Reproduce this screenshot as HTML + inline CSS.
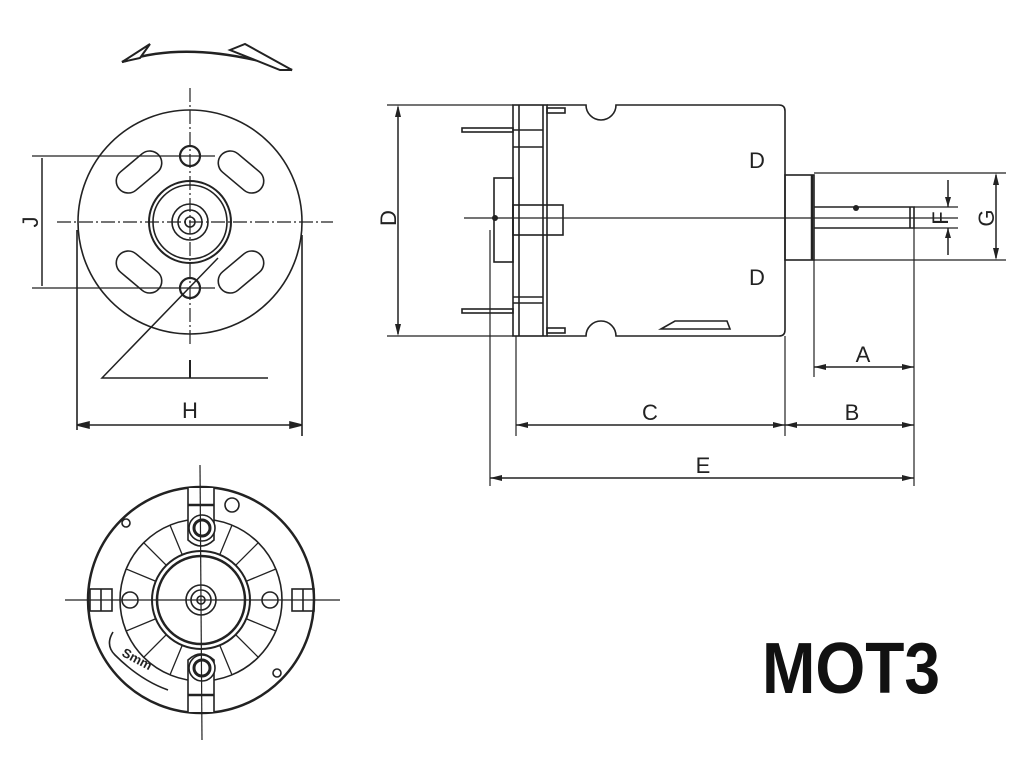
<!DOCTYPE html>
<html><head><meta charset="utf-8"><style>html,body{margin:0;padding:0;background:#fff}svg{display:block}</style></head>
<body>
<svg width="1024" height="768" viewBox="0 0 1024 768" xmlns="http://www.w3.org/2000/svg" font-family="Liberation Sans, sans-serif">
<rect width="1024" height="768" fill="#fff"/>
<g stroke="#222" stroke-width="1.6" fill="none">
<!-- rotation arrow -->
<path d="M122,62 Q190,38 292,70" stroke-width="2.5"/>
<path d="M122,62 L150,44 L140,58 Z" fill="#fff" stroke-width="2"/>
<path d="M230,50 L245,44 L292,70 L280,70 Z" fill="#fff" stroke-width="2"/>
<!-- front view -->
<circle cx="190" cy="222" r="112"/>
<line x1="190" y1="88" x2="190" y2="345" stroke-dasharray="14,3,2,3" stroke-width="1.2"/>
<line x1="57" y1="222" x2="333" y2="222" stroke-dasharray="14,3,2,3" stroke-width="1.2"/>
<circle cx="190" cy="156" r="10" stroke-width="2.2"/>
<circle cx="190" cy="288" r="10" stroke-width="2.2"/>
<rect x="-26" y="-12" width="52" height="24" rx="12" transform="translate(139,172) rotate(-40)"/>
<rect x="-26" y="-12" width="52" height="24" rx="12" transform="translate(241,172) rotate(40)"/>
<rect x="-26" y="-12" width="52" height="24" rx="12" transform="translate(139,272) rotate(40)"/>
<rect x="-26" y="-12" width="52" height="24" rx="12" transform="translate(241,272) rotate(-40)"/>
<circle cx="190" cy="222" r="41" stroke-width="2"/>
<circle cx="190" cy="222" r="37"/>
<circle cx="190" cy="222" r="18"/>
<circle cx="190" cy="222" r="12"/>
<circle cx="190" cy="222" r="5"/>
<!-- J -->
<line x1="32" y1="156" x2="215" y2="156" stroke-width="1.2"/>
<line x1="32" y1="288" x2="215" y2="288" stroke-width="1.2"/>
<line x1="42" y1="158" x2="42" y2="286" stroke-width="1.5"/>
<!-- I leader -->
<polyline points="218,258 102,378 268,378" stroke-width="1.5"/>
<line x1="190" y1="360" x2="190" y2="378" stroke-width="2"/>
<!-- H -->
<line x1="77" y1="230" x2="77" y2="430"/>
<line x1="302" y1="235" x2="302" y2="436"/>
<line x1="77" y1="425" x2="302" y2="425" stroke-width="1.5"/>
<path d="M77,425 l12,-3 v6 Z M302,425 l-12,-3 v6 Z" fill="#222"/>
</g>
<g fill="#222" font-size="22">
<text x="190" y="418" text-anchor="middle">H</text>
<text x="190" y="376" text-anchor="middle" font-size="20">I</text>
<text transform="translate(38,222) rotate(-90)" text-anchor="middle">J</text>
</g>
<!-- bottom view -->
<g stroke="#222" stroke-width="1.6" fill="none">
<circle cx="201" cy="600" r="113" stroke-width="2.5"/>
<circle cx="201" cy="600" r="81"/>
<circle cx="201" cy="600" r="49" stroke-width="2"/>
<circle cx="201" cy="600" r="44" stroke-width="2.5"/>
<circle cx="201" cy="600" r="15"/>
<circle cx="201" cy="600" r="10"/>
<circle cx="201" cy="600" r="4"/>
<g stroke-width="1.3">
<line x1="201" y1="551" x2="201" y2="519" transform="rotate(22.5 201 600)"/>
<line x1="201" y1="551" x2="201" y2="519" transform="rotate(45 201 600)"/>
<line x1="201" y1="551" x2="201" y2="519" transform="rotate(67.5 201 600)"/>
<line x1="201" y1="551" x2="201" y2="519" transform="rotate(112.5 201 600)"/>
<line x1="201" y1="551" x2="201" y2="519" transform="rotate(135 201 600)"/>
<line x1="201" y1="551" x2="201" y2="519" transform="rotate(157.5 201 600)"/>
<line x1="201" y1="551" x2="201" y2="519" transform="rotate(202.5 201 600)"/>
<line x1="201" y1="551" x2="201" y2="519" transform="rotate(225 201 600)"/>
<line x1="201" y1="551" x2="201" y2="519" transform="rotate(247.5 201 600)"/>
<line x1="201" y1="551" x2="201" y2="519" transform="rotate(292.5 201 600)"/>
<line x1="201" y1="551" x2="201" y2="519" transform="rotate(315 201 600)"/>
<line x1="201" y1="551" x2="201" y2="519" transform="rotate(337.5 201 600)"/>
</g>
<path d="M188,488 V540 Q201,552 214,540 V488" fill="#fff"/>
<line x1="188" y1="505" x2="214" y2="505" stroke-width="2.5"/>
<circle cx="202" cy="528" r="13" fill="#fff"/>
<circle cx="202" cy="528" r="8" stroke-width="3"/>
<path d="M188,712 V660 Q201,648 214,660 V712" fill="#fff"/>
<line x1="188" y1="695" x2="214" y2="695" stroke-width="2.5"/>
<circle cx="202" cy="668" r="13" fill="#fff"/>
<circle cx="202" cy="668" r="8" stroke-width="3"/>
<rect x="90" y="589" width="22" height="22"/>
<line x1="101" y1="589" x2="101" y2="611"/>
<rect x="292" y="589" width="22" height="22"/>
<line x1="303" y1="589" x2="303" y2="611"/>
<circle cx="232" cy="505" r="7"/>
<circle cx="130" cy="600" r="8"/>
<circle cx="270" cy="600" r="8"/>
<circle cx="126" cy="523" r="4"/>
<circle cx="277" cy="673" r="4"/>
<path d="M113,632 Q105,645 115,655 Q140,680 168,690"/>
<line x1="200" y1="465" x2="202" y2="740" stroke-width="1.2"/>
<line x1="65" y1="600" x2="340" y2="600" stroke-width="1.2"/>
</g>
<text transform="translate(135,663) rotate(28)" font-size="13" font-weight="bold" fill="#222" text-anchor="middle">Smm</text>
<!-- side view -->
<g stroke="#222" stroke-width="1.6" fill="none">
<line x1="387" y1="105" x2="513" y2="105" stroke-width="1.2"/>
<line x1="387" y1="336" x2="513" y2="336" stroke-width="1.2"/>
<line x1="398" y1="107" x2="398" y2="334" stroke-width="1.5"/>
<rect x="513" y="105" width="34" height="231"/>
<line x1="519" y1="105" x2="519" y2="336"/>
<line x1="543" y1="105" x2="543" y2="336"/>
<line x1="513" y1="130" x2="543" y2="130"/>
<line x1="513" y1="147" x2="543" y2="147"/>
<line x1="513" y1="297" x2="543" y2="297"/>
<line x1="513" y1="303" x2="543" y2="303"/>
<path d="M547,105 H586 A15,15 0 0 0 616,105 H779 Q785,105 785,111 V330 Q785,336 779,336 H616 A15,15 0 0 0 586,336 H547"/>
<rect x="547" y="108" width="18" height="5"/>
<rect x="547" y="328" width="18" height="5"/>
<path d="M661,329 L675,321 H727 L730,329 Z"/>
<rect x="462" y="128" width="51" height="4"/>
<rect x="462" y="309" width="51" height="4"/>
<rect x="494" y="178" width="19" height="84"/>
<rect x="513" y="205" width="50" height="30"/>
<line x1="464" y1="218" x2="958" y2="218" stroke-width="1.2"/>
<rect x="785" y="175" width="29" height="85"/>
<line x1="812" y1="175" x2="812" y2="260" stroke-width="2.5"/>
<path d="M814,207 H914 V228 H814"/>
<line x1="910" y1="207" x2="910" y2="228"/>
<!-- G -->
<line x1="814" y1="173" x2="1006" y2="173" stroke-width="1.2"/>
<line x1="814" y1="260" x2="1006" y2="260" stroke-width="1.2"/>
<line x1="996" y1="175" x2="996" y2="258" stroke-width="1.5"/>
<!-- F -->
<line x1="914" y1="207" x2="958" y2="207" stroke-width="1.2"/>
<line x1="914" y1="228" x2="958" y2="228" stroke-width="1.2"/>
<line x1="948" y1="180" x2="948" y2="207" stroke-width="1.5"/>
<line x1="948" y1="228" x2="948" y2="255" stroke-width="1.5"/>
<!-- A -->
<line x1="814" y1="260" x2="814" y2="377" stroke-width="1.2"/>
<line x1="814" y1="367" x2="914" y2="367" stroke-width="1.5"/>
<!-- C,B -->
<line x1="516" y1="336" x2="516" y2="436" stroke-width="1.2"/>
<line x1="785" y1="336" x2="785" y2="436" stroke-width="1.2"/>
<line x1="914" y1="228" x2="914" y2="486" stroke-width="1.2"/>
<line x1="516" y1="425" x2="914" y2="425" stroke-width="1.5"/>
<!-- E -->
<line x1="490" y1="230" x2="490" y2="486" stroke-width="1.2"/>
<line x1="490" y1="478" x2="914" y2="478" stroke-width="1.5"/>
</g>
<g fill="#222">
<circle cx="856" cy="208" r="3"/>
<circle cx="495" cy="218" r="3"/>
<path d="M814,367 l12,-3 v6 Z M914,367 l-12,-3 v6 Z M516,425 l12,-3 v6 Z M785,425 l-12,-3 v6 Z M785,425 l12,-3 v6 Z M914,425 l-12,-3 v6 Z M490,478 l12,-3 v6 Z M914,478 l-12,-3 v6 Z M398,105 l-3,12 h6 Z M398,336 l-3,-12 h6 Z M996,173 l-3,12 h6 Z M996,260 l-3,-12 h6 Z M948,207 l-3,-10 h6 Z M948,228 l-3,10 h6 Z"/>
</g>
<g fill="#222" font-size="22">
<text x="757" y="168" text-anchor="middle">D</text>
<text x="757" y="285" text-anchor="middle">D</text>
<text transform="translate(396,218) rotate(-90)" text-anchor="middle">D</text>
<text x="863" y="362" text-anchor="middle">A</text>
<text x="650" y="420" text-anchor="middle">C</text>
<text x="852" y="420" text-anchor="middle">B</text>
<text x="703" y="473" text-anchor="middle">E</text>
<text transform="translate(948,218) rotate(-90)" text-anchor="middle">F</text>
<text transform="translate(994,218) rotate(-90)" text-anchor="middle">G</text>
</g>
<text x="762" y="693" font-size="72" font-weight="bold" fill="#111" textLength="178" lengthAdjust="spacingAndGlyphs">MOT3</text>
</svg>
</body></html>
